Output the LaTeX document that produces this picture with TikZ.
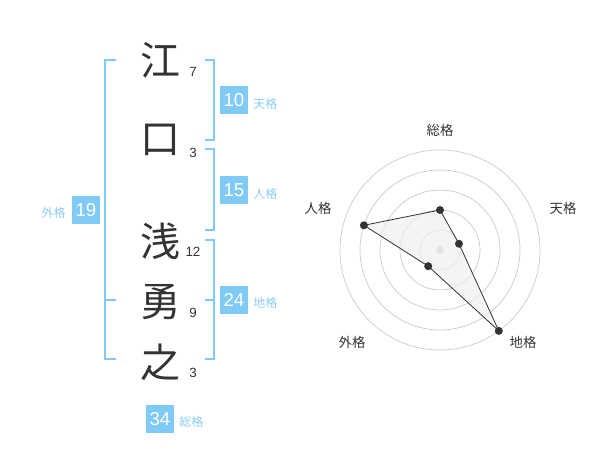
\documentclass[tikz,border=0pt]{standalone}
\usepackage{fontspec}
\setmainfont{Liberation Sans}
\newfontfamily\cjk{Noto Sans CJK JP}
\definecolor{kblue}{RGB}{128,202,246}
\definecolor{klabel}{RGB}{140,205,240}
\definecolor{kdark}{RGB}{51,51,51}
\definecolor{kgrid}{RGB}{200,200,200}
\begin{document}
\begin{tikzpicture}[x=0.75pt,y=-0.75pt,
  kanji/.style={font=\cjk\fontsize{30}{30}\selectfont, text=kdark, inner sep=0pt},
  strokes/.style={font=\fontsize{10}{10}\selectfont, text=kdark, inner sep=0pt},
  numbox/.style={fill=kblue, text=white, minimum width=21pt, minimum height=21pt, inner sep=0pt, font=\fontsize{14}{14}\selectfont},
  kaku/.style={font=\cjk\fontsize{9}{9}\selectfont, text=klabel, inner sep=0pt},
  bracket/.style={draw=kblue, line width=1.5pt},
  rlabel/.style={font=\cjk\fontsize{10}{10}\selectfont, text=kdark, inner sep=0pt},
  grid/.style={draw=kgrid, line width=0.5pt},
  dot/.style={circle, fill=kdark, inner sep=0pt, minimum size=6pt}
]
\useasboundingbox (0,0) rectangle (600,470);
% kanji
\node[kanji] (k1) at (160,60) {江};
\node[kanji] (k2) at (160,140) {口};
\node[kanji] (k3) at (160,241) {浅};
\node[kanji] (k4) at (160,302) {勇};
\node[kanji] (k5) at (160,362) {之};
% stroke counts
\node[strokes] (s1) at (193,72) {7};
\node[strokes] (s2) at (193,153) {3};
\node[strokes] (s3) at (193,252) {12};
\node[strokes] (s4) at (193,313) {9};
\node[strokes] (s5) at (193,373) {3};
% brackets
\draw[bracket] (116,60) -- (105,60) -- (105,359) -- (116,359);
\draw[bracket] (105,300) -- (116,300);
\draw[bracket] (205,60) -- (214,60) -- (214,140) -- (205,140);
\draw[bracket] (205,149) -- (214,149) -- (214,230) -- (205,230);
\draw[bracket] (205,240) -- (214,240) -- (214,359) -- (205,359);
\draw[bracket] (205,300) -- (214,300);
% boxes and labels
\node[numbox] (ten) at (234,100) {10};
\node[kaku, anchor=west] (tenl) at (253,104) {天格};
\node[numbox] (jin) at (234,190) {15};
\node[kaku, anchor=west] (jinl) at (253,194) {人格};
\node[numbox] (chi) at (234,300) {24};
\node[kaku, anchor=west] (chil) at (253,303) {地格};
\node[numbox] (gai) at (86,210) {19};
\node[kaku, anchor=east] (gail) at (66,213) {外格};
\node[numbox] (sou) at (160,419) {34};
\node[kaku, anchor=west] (soul) at (179,422) {総格};
% radar
\coordinate (c) at (440,250);
\foreach \r in {15,30,45,60,75} \draw[grid] (c) circle[radius=\r pt];
\fill[kgrid] (c) circle[radius=3pt];
\coordinate (pS) at (440,210);
\coordinate (pT) at (459,243.8);
\coordinate (pC) at (498.8,330.9);
\coordinate (pG) at (428.2,266.2);
\coordinate (pJ) at (363.9,225.3);
\draw[fill=black!6, fill opacity=0.7, draw=kdark, line width=0.6pt] (pS) -- (pT) -- (pC) -- (pG) -- (pJ) -- cycle;
\foreach \p in {pS,pT,pC,pG,pJ} \node[dot] at (\p) {};
\node[rlabel] (lS) at (440,130) {総格};
\node[rlabel] (lT) at (563,208) {天格};
\node[rlabel] (lC) at (523,342) {地格};
\node[rlabel] (lG) at (352,342) {外格};
\node[rlabel] (lJ) at (318,208) {人格};
\end{tikzpicture}
\end{document}
